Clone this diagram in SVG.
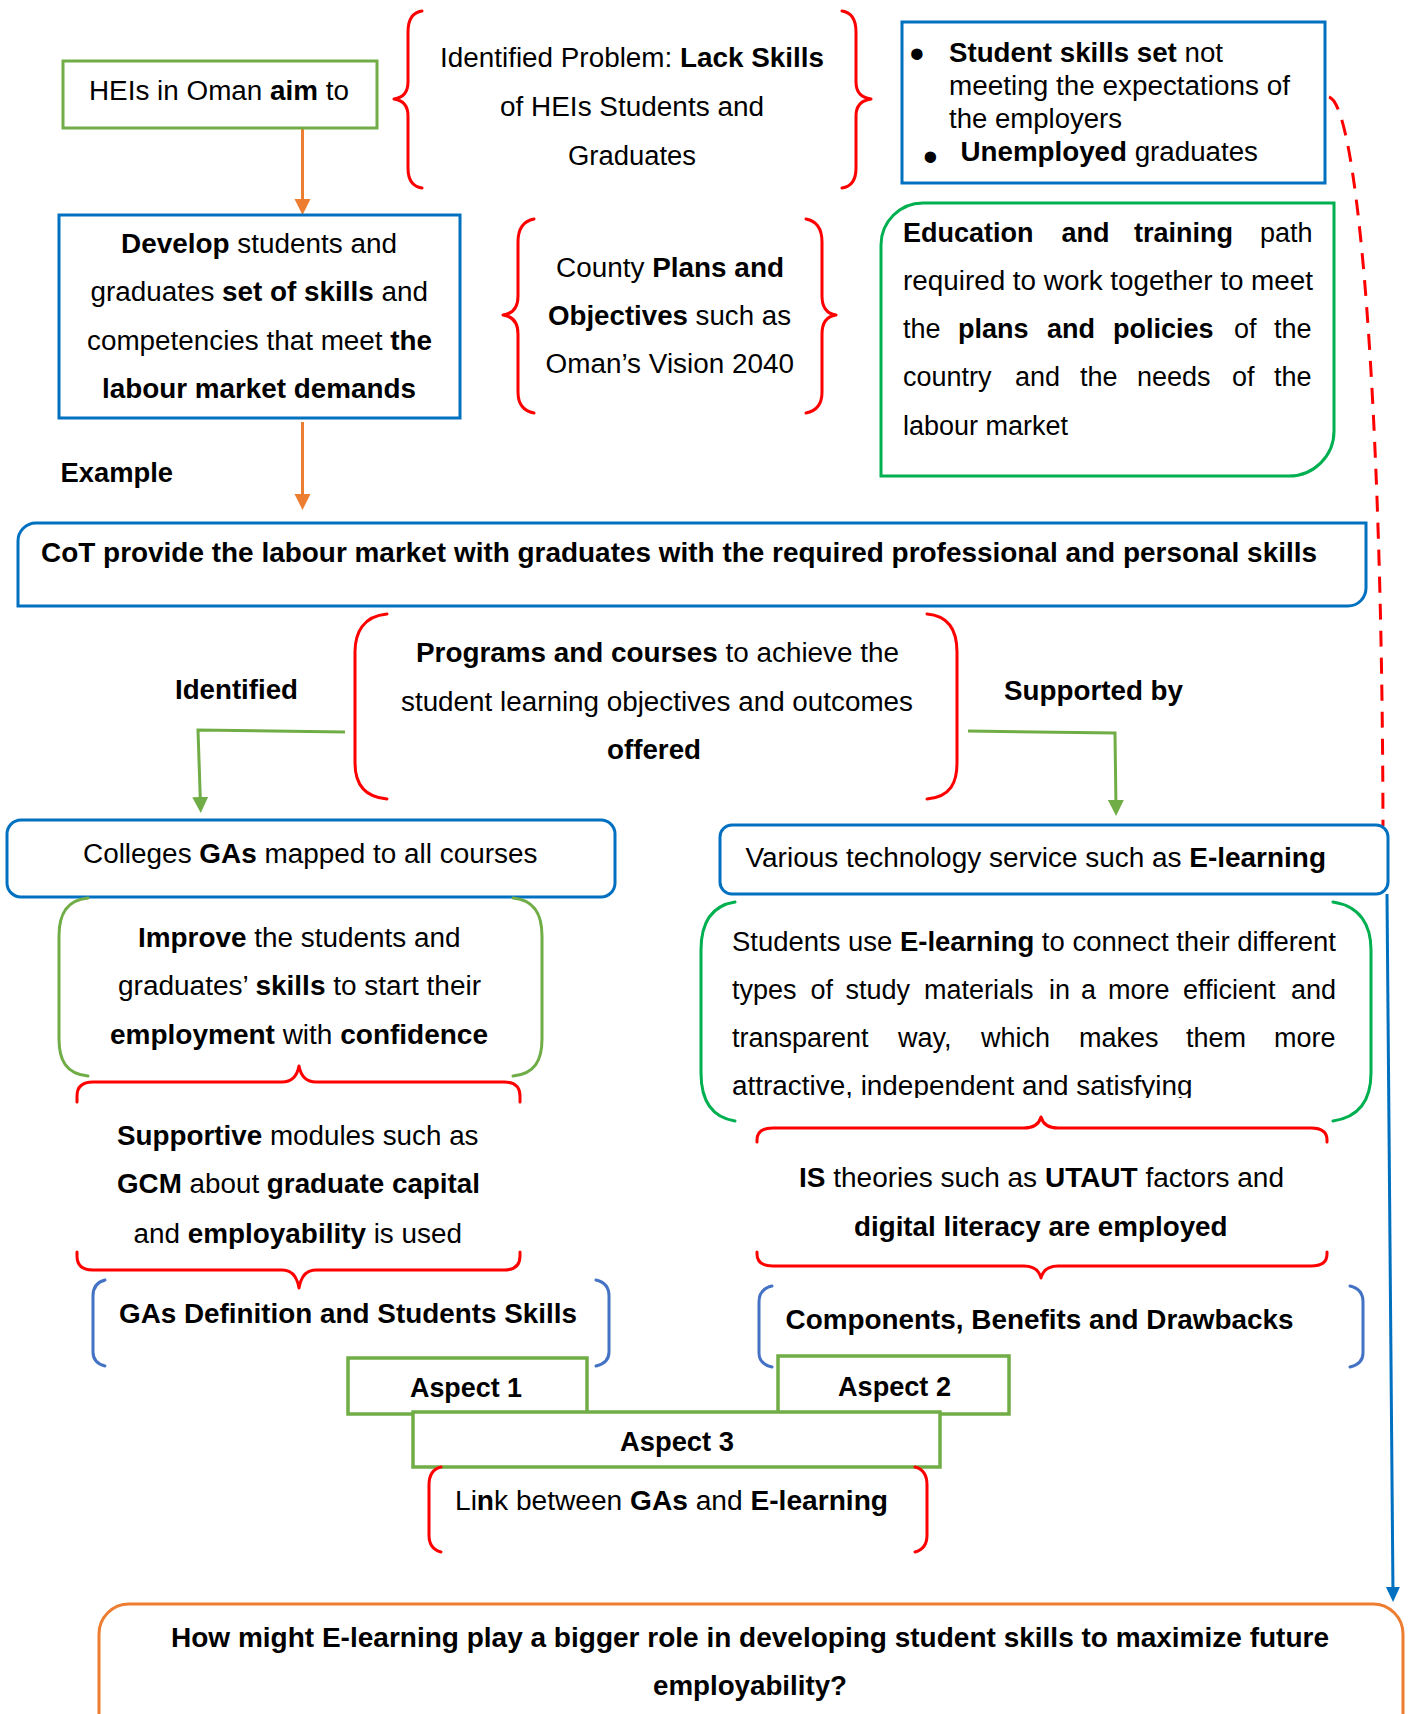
<svg xmlns="http://www.w3.org/2000/svg" width="1413" height="1714" viewBox="0 0 1413 1714">
  <style>
    text { font-family: "Liberation Sans", Arial, Helvetica, sans-serif; font-size: 27px; fill: #000; }
    .b { font-weight: bold; }
    .bullet { font-size: 42px; }
    .box { fill: none; stroke-width: 3; }
    .wbox { fill: #fff; stroke-width: 3.5; stroke: #70AD47; }
    .blue { stroke: #0070C0; }
    .lgreen { stroke: #70AD47; }
    .green { stroke: #00B050; }
    .red { stroke: #FF0000; }
    .orange { stroke: #ED7D31; }
    .sblue { stroke: #4472C4; }
    .br { fill: none; stroke-width: 3; stroke-linecap: round; stroke-linejoin: round; }
    .con { fill: none; stroke-width: 3; }
  </style>
  <defs>
    <marker id="arrOrange" markerUnits="userSpaceOnUse" markerWidth="18" markerHeight="18" refX="8" refY="8" orient="auto">
      <path d="M0,0 L16,8 L0,16 Z" fill="#ED7D31"/>
    </marker>
    <marker id="arrGreen" markerUnits="userSpaceOnUse" markerWidth="18" markerHeight="18" refX="8" refY="8" orient="auto">
      <path d="M0,0 L16,8 L0,16 Z" fill="#70AD47"/>
    </marker>
    <marker id="arrBlue" markerUnits="userSpaceOnUse" markerWidth="18" markerHeight="18" refX="8" refY="7" orient="auto">
      <path d="M0,0 L15,7 L0,14 Z" fill="#0070C0"/>
    </marker>
    <clipPath id="clipLast">
      <rect x="700" y="1060" width="680" height="38"/>
    </clipPath>
  </defs>

  <rect width="1413" height="1714" fill="#fff"/>

  <!-- connectors -->
  <g id="connectors">
    <line class="con orange" x1="302.5" y1="128" x2="302.5" y2="207" marker-end="url(#arrOrange)"/>
    <line class="con orange" x1="302.5" y1="422" x2="302.5" y2="502" marker-end="url(#arrOrange)"/>
    <polyline class="con lgreen" points="345,732 198,730 200.5,805" marker-end="url(#arrGreen)"/>
    <polyline class="con lgreen" points="968,731 1115,733 1116,808" marker-end="url(#arrGreen)"/>
    <path class="con red" d="M1329,97 C1358,105 1382,400 1383,826" stroke-dasharray="16 11"/>
    <line class="con blue" stroke-width="2.5" x1="1387" y1="894" x2="1393" y2="1595" marker-end="url(#arrBlue)"/>
  </g>

  <!-- HEIs aim -->
  <g id="n-heis">
    <rect class="box lgreen" x="63" y="61" width="314" height="67"/>
    <text x="89" y="100" textLength="260" lengthAdjust="spacingAndGlyphs">HEIs in Oman <tspan class="b">aim</tspan> to</text>
  </g>

  <!-- identified problem -->
  <g id="n-problem">
    <path class="br red" d="M422,11 Q408,13 408,32 L408,82 Q408,97 394,99 Q408,101 408,116 L408,168 Q408,186 422,188"/>
    <path class="br red" d="M842,11 Q856,13 856,32 L856,82 Q856,97 871,99 Q856,101 856,116 L856,168 Q856,186 842,188"/>
    <text x="440" y="67" textLength="384" lengthAdjust="spacingAndGlyphs">Identified Problem: <tspan class="b">Lack Skills</tspan></text>
    <text x="500" y="116" textLength="264" lengthAdjust="spacingAndGlyphs">of HEIs Students and</text>
    <text x="568" y="165" textLength="128" lengthAdjust="spacingAndGlyphs">Graduates</text>
  </g>

  <!-- develop skills -->
  <g id="n-develop">
    <rect class="box blue" x="59" y="215" width="401" height="203"/>
    <text x="121" y="253" textLength="276" lengthAdjust="spacingAndGlyphs"><tspan class="b">Develop</tspan> students and</text>
    <text x="90.5" y="301" textLength="337.5" lengthAdjust="spacingAndGlyphs">graduates <tspan class="b">set of skills</tspan> and</text>
    <text x="87" y="350" textLength="345" lengthAdjust="spacingAndGlyphs">competencies that meet <tspan class="b">the</tspan></text>
    <text x="102" y="398" textLength="314" lengthAdjust="spacingAndGlyphs" class="b">labour market demands</text>
  </g>

  <!-- country plans -->
  <g id="n-county">
    <path class="br red" d="M534,219 Q518,222 518,242 L518,296 Q518,313 503,315 Q518,317 518,334 L518,392 Q518,410 534,413"/>
    <path class="br red" d="M806,219 Q822,222 822,242 L822,296 Q822,313 836,315 Q822,317 822,334 L822,392 Q822,410 806,413"/>
    <text x="556" y="277" textLength="228" lengthAdjust="spacingAndGlyphs">County <tspan class="b">Plans and</tspan></text>
    <text x="548" y="325" textLength="243" lengthAdjust="spacingAndGlyphs"><tspan class="b">Objectives</tspan> such as</text>
    <text x="545.5" y="373" textLength="248.5" lengthAdjust="spacingAndGlyphs">Oman’s Vision 2040</text>
  </g>

  <!-- symptoms -->
  <g id="n-symptoms">
    <rect class="box blue" x="902" y="22" width="423" height="161"/>
    <text class="bullet" x="909.5" y="68">•</text>
    <text x="949" y="62" textLength="274" lengthAdjust="spacingAndGlyphs"><tspan class="b">Student skills set</tspan> not</text>
    <text x="949" y="95" textLength="341" lengthAdjust="spacingAndGlyphs">meeting the expectations of</text>
    <text x="949" y="128" textLength="173" lengthAdjust="spacingAndGlyphs">the employers</text>
    <text class="bullet" x="923" y="171">•</text>
    <text x="960.5" y="161" textLength="297.5" lengthAdjust="spacingAndGlyphs"><tspan class="b">Unemployed</tspan> graduates</text>
  </g>

  <!-- education and training path -->
  <g id="n-edu">
    <path class="box green" d="M923,203 L1334,203 L1334,431 A45,45 0 0 1 1289,476 L881,476 L881,245 A42,42 0 0 1 923,203 Z"/>
    <text y="242"><tspan class="b" x="903">Education</tspan><tspan class="b" x="1061.5">and</tspan><tspan class="b" x="1134">training</tspan><tspan x="1260">path</tspan></text>
    <text x="903" y="290" textLength="410" lengthAdjust="spacingAndGlyphs">required to work together to meet</text>
    <text y="338"><tspan x="903">the</tspan><tspan class="b" x="958">plans</tspan><tspan class="b" x="1047">and</tspan><tspan class="b" x="1113">policies</tspan><tspan x="1234">of</tspan><tspan x="1274">the</tspan></text>
    <text y="386"><tspan x="903">country</tspan><tspan x="1015">and</tspan><tspan x="1080">the</tspan><tspan x="1137">needs</tspan><tspan x="1232">of</tspan><tspan x="1274">the</tspan></text>
    <text x="903" y="435">labour market</text>
  </g>

  <g id="n-example">
    <text x="60.5" y="482" class="b" textLength="112.5" lengthAdjust="spacingAndGlyphs">Example</text>
  </g>

  <!-- CoT statement -->
  <g id="n-cot">
    <path class="box blue" d="M36,523 L1366,523 L1366,588 A18,18 0 0 1 1348,606 L18,606 L18,541 A18,18 0 0 1 36,523 Z"/>
    <text x="41" y="562" class="b" textLength="1276" lengthAdjust="spacingAndGlyphs">CoT provide the labour market with graduates with the required professional and personal skills</text>
  </g>

  <!-- programs and courses -->
  <g id="n-programs">
    <path class="br red" d="M387,614 C363,616 355,633 355,652 L355,763 C355,782 363,797 387,799"/>
    <path class="br red" d="M927,614 C951,616 957,633 957,652 L957,763 C957,782 951,797 927,799"/>
    <text x="416" y="662" textLength="483" lengthAdjust="spacingAndGlyphs"><tspan class="b">Programs and courses</tspan> to achieve the</text>
    <text x="401" y="711" textLength="512" lengthAdjust="spacingAndGlyphs">student learning objectives and outcomes</text>
    <text x="607" y="759" class="b" textLength="94" lengthAdjust="spacingAndGlyphs">offered</text>
  </g>

  <g id="n-identified">
    <text x="175" y="699" class="b" textLength="123" lengthAdjust="spacingAndGlyphs">Identified</text>
  </g>
  <g id="n-supported">
    <text x="1004" y="700" class="b" textLength="179" lengthAdjust="spacingAndGlyphs">Supported by</text>
  </g>

  <!-- colleges GAs -->
  <g id="n-colleges">
    <rect class="box blue" x="7" y="820" width="608" height="77" rx="14"/>
    <text x="83" y="863" textLength="454.5" lengthAdjust="spacingAndGlyphs">Colleges <tspan class="b">GAs</tspan> mapped to all courses</text>
  </g>

  <!-- technology services -->
  <g id="n-various">
    <rect class="box blue" x="720" y="825" width="668" height="69" rx="12"/>
    <text x="745.5" y="867" textLength="580.5" lengthAdjust="spacingAndGlyphs">Various technology service such as <tspan class="b">E-learning</tspan></text>
  </g>

  <!-- improve skills -->
  <g id="n-improve">
    <path class="br lgreen" d="M88,898 C66,900 59,915 59,936 L59,1039 C59,1060 66,1074 88,1076"/>
    <path class="br lgreen" d="M513,898 C535,900 542,915 542,936 L542,1039 C542,1060 535,1074 513,1076"/>
    <text x="138" y="947" textLength="322.5" lengthAdjust="spacingAndGlyphs"><tspan class="b">Improve</tspan> the students and</text>
    <text x="118" y="995" textLength="363" lengthAdjust="spacingAndGlyphs">graduates’ <tspan class="b">skills</tspan> to start their</text>
    <text x="110" y="1044" textLength="378" lengthAdjust="spacingAndGlyphs"><tspan class="b">employment</tspan> with <tspan class="b">confidence</tspan></text>
  </g>

  <!-- supportive modules -->
  <g id="n-supportive">
    <path class="br red" d="M77,1102 L77,1096 Q77,1082 93,1082 L282,1082 Q296,1082 299,1066 Q302,1082 316,1082 L504,1082 Q520,1082 520,1096 L520,1102"/>
    <path class="br red" d="M77,1252 L77,1256 Q77,1270 93,1270 L282,1270 Q296,1270 299,1288 Q302,1270 316,1270 L504,1270 Q520,1270 520,1256 L520,1252"/>
    <text x="117" y="1145" textLength="361.5" lengthAdjust="spacingAndGlyphs"><tspan class="b">Supportive</tspan> modules such as</text>
    <text x="117" y="1193" textLength="363" lengthAdjust="spacingAndGlyphs"><tspan class="b">GCM</tspan> about <tspan class="b">graduate capital</tspan></text>
    <text x="133.5" y="1243" textLength="328.5" lengthAdjust="spacingAndGlyphs">and <tspan class="b">employability</tspan> is used</text>
  </g>

  <!-- GAs definition -->
  <g id="n-gasdef">
    <path class="br sblue" stroke-width="2.5" d="M105,1280 Q93,1283 93,1296 L93,1352 Q93,1363 105,1366"/>
    <path class="br sblue" stroke-width="2.5" d="M596,1280 Q609,1283 609,1296 L609,1352 Q609,1363 596,1366"/>
    <text x="119" y="1323" class="b" textLength="458" lengthAdjust="spacingAndGlyphs">GAs Definition and Students Skills</text>
  </g>

  <!-- students use e-learning -->
  <g id="n-students">
    <path class="br green" d="M735,902 C710,906 701,925 701,950 L701,1073 C701,1099 710,1117 735,1121"/>
    <path class="br green" d="M1333,902 C1360,906 1371,925 1371,950 L1371,1073 C1371,1099 1360,1117 1333,1121"/>
    <text x="732" y="951" textLength="604" lengthAdjust="spacingAndGlyphs">Students use <tspan class="b">E-learning</tspan> to connect their different</text>
    <text y="999"><tspan x="732">types</tspan><tspan x="810.5">of</tspan><tspan x="845.5">study</tspan><tspan x="924">materials</tspan><tspan x="1049">in</tspan><tspan x="1081">a</tspan><tspan x="1108">more</tspan><tspan x="1183">efficient</tspan><tspan x="1291">and</tspan></text>
    <text y="1047"><tspan x="732">transparent</tspan><tspan x="898">way,</tspan><tspan x="981">which</tspan><tspan x="1079">makes</tspan><tspan x="1186">them</tspan><tspan x="1274">more</tspan></text>
    <text x="732" y="1095" clip-path="url(#clipLast)" textLength="460.5" lengthAdjust="spacingAndGlyphs">attractive, independent and satisfying</text>
  </g>

  <!-- IS theories -->
  <g id="n-istheories">
    <path class="br red" d="M757,1142 L757,1140 Q757,1128 773,1128 L1024,1128 Q1038,1128 1041,1117 Q1044,1128 1058,1128 L1311,1128 Q1327,1128 1327,1140 L1327,1142"/>
    <path class="br red" d="M757,1252 L757,1254 Q757,1266 773,1266 L1024,1266 Q1038,1266 1041,1278 Q1044,1266 1058,1266 L1311,1266 Q1327,1266 1327,1254 L1327,1252"/>
    <text x="799" y="1187" textLength="485" lengthAdjust="spacingAndGlyphs"><tspan class="b">IS</tspan> theories such as <tspan class="b">UTAUT</tspan> factors and</text>
    <text x="854" y="1236" class="b" textLength="373.5" lengthAdjust="spacingAndGlyphs">digital literacy are employed</text>
  </g>

  <!-- components -->
  <g id="n-components">
    <path class="br sblue" stroke-width="2.5" d="M772,1286 Q759,1289 759,1302 L759,1353 Q759,1364 772,1367"/>
    <path class="br sblue" stroke-width="2.5" d="M1350,1286 Q1363,1289 1363,1302 L1363,1353 Q1363,1364 1350,1367"/>
    <text x="785.5" y="1329" class="b" textLength="508" lengthAdjust="spacingAndGlyphs">Components, Benefits and Drawbacks</text>
  </g>

  <!-- aspects -->
  <g id="n-aspect1">
    <rect class="wbox" x="348" y="1358" width="239" height="56"/>
    <text x="410" y="1397" class="b" textLength="112" lengthAdjust="spacingAndGlyphs">Aspect 1</text>
  </g>
  <g id="n-aspect2">
    <rect class="wbox" x="778" y="1356" width="231" height="58"/>
    <text x="838" y="1396" class="b" textLength="113" lengthAdjust="spacingAndGlyphs">Aspect 2</text>
  </g>
  <g id="n-aspect3">
    <rect class="wbox" x="413" y="1412" width="527" height="55"/>
    <text x="620" y="1451" class="b" textLength="114" lengthAdjust="spacingAndGlyphs">Aspect 3</text>
  </g>

  <!-- link -->
  <g id="n-link">
    <path class="br red" d="M441,1467 Q429,1470 429,1485 L429,1535 Q429,1549 441,1552"/>
    <path class="br red" d="M915,1467 Q927,1470 927,1485 L927,1535 Q927,1549 915,1552"/>
    <text x="455" y="1510" textLength="433" lengthAdjust="spacingAndGlyphs">Li<tspan class="b">n</tspan>k between <tspan class="b">GAs</tspan> and <tspan class="b">E-learning</tspan></text>
  </g>

  <!-- research question -->
  <g id="n-question">
    <rect class="box orange" x="99" y="1604" width="1304" height="140" rx="30"/>
    <text x="171" y="1647" class="b" textLength="1158" lengthAdjust="spacingAndGlyphs">How might E-learning play a bigger role in developing student skills to maximize future</text>
    <text x="653" y="1695" class="b" textLength="194" lengthAdjust="spacingAndGlyphs">employability?</text>
  </g>
</svg>
